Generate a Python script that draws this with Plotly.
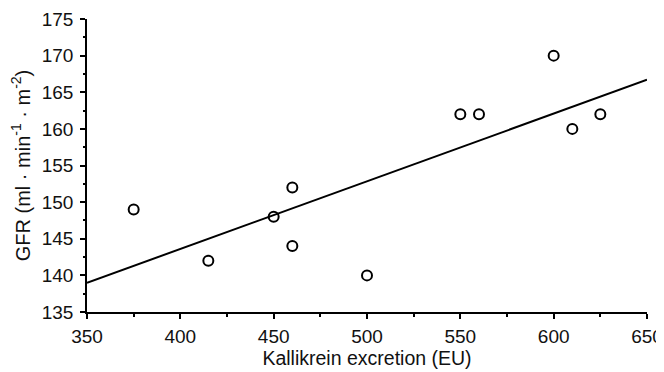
import numpy as np
import plotly.graph_objects as go

kallikrein = [375, 415, 450, 460, 460, 500, 550, 560, 600, 610, 625]
gfr = [149, 142, 148, 152, 144, 140, 162, 162, 170, 160, 162]
x_ticks = [350, 400, 450, 500, 550, 600, 650]
y_ticks = [135, 140, 145, 150, 155, 160, 165, 170, 175]

slope, intercept = np.polyfit(kallikrein, gfr, 1)
fit_x = [350, 650]
fit_y = [slope * v + intercept for v in fit_x]

fig = go.Figure()
fig.add_trace(go.Scatter(x=fit_x, y=fit_y, mode="lines",
                         line=dict(color="black", width=2), hoverinfo="skip"))
fig.add_trace(go.Scatter(x=kallikrein, y=gfr, mode="markers",
                         marker=dict(symbol="circle-open", size=10, color="black",
                                     line=dict(width=2, color="black"))))

font = dict(family="Liberation Sans, Arial, Helvetica, sans-serif", size=19, color="#111")
fig.update_layout(
    width=664, height=372, showlegend=False,
    paper_bgcolor="white", plot_bgcolor="white",
    margin=dict(l=79, r=25, t=11, b=68),
    font=font,
    xaxis=dict(range=[350, 650], tickvals=x_ticks, showgrid=False, zeroline=False,
               automargin=False,
               showline=True, linecolor="black", linewidth=1.5,
               ticks="outside", ticklen=5, tickwidth=1.5, tickcolor="black",
               tickfont=dict(size=19), ticklabelstandoff=1,
               minor=dict(dtick=25, ticks="outside", ticklen=3, tickcolor="black", showgrid=False),
               title=dict(text="Kallikrein excretion (EU)", standoff=5, font=dict(size=19.5))),
    yaxis=dict(range=[135, 175], tickvals=y_ticks, showgrid=False, zeroline=False,
               automargin=False,
               showline=True, linecolor="black", linewidth=1.5,
               ticks="outside", ticklen=5, tickwidth=1.5, tickcolor="black",
               tickfont=dict(size=19), ticklabelstandoff=3,
               minor=dict(dtick=2.5, ticks="outside", ticklen=2, tickcolor="black", showgrid=False),
               title=dict(text="GFR (ml · min<sup>-1</sup> · m<sup>-2</sup>)", standoff=6, font=dict(size=20))),
)
fig.write_html("out.html")
